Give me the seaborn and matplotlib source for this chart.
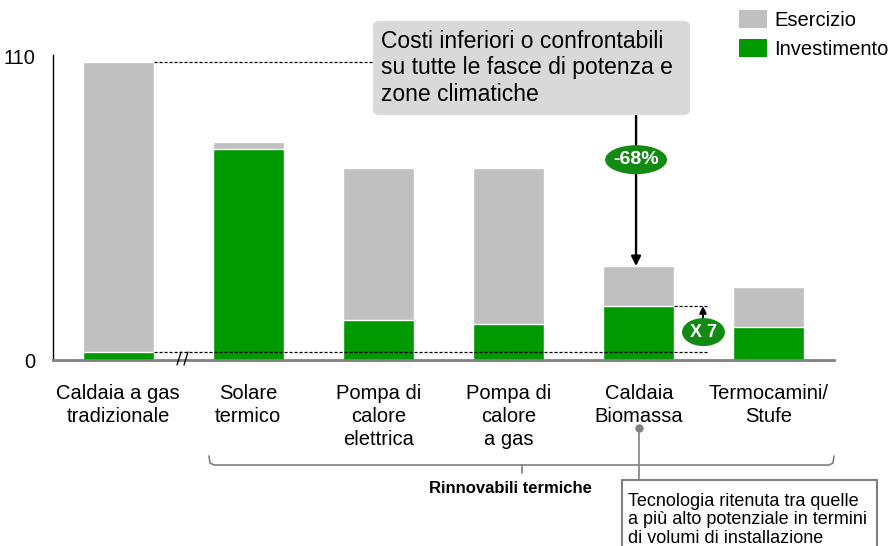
import matplotlib
matplotlib.use("Agg")
import matplotlib.pyplot as plt
from matplotlib.patches import Patch, Ellipse, FancyBboxPatch, Rectangle
from matplotlib.lines import Line2D
from matplotlib.transforms import Affine2D
import seaborn as sns
import pandas as pd

# ---- data -------------------------------------------------------------
categories = [
    "Caldaia a gas\ntradizionale",
    "Solare\ntermico",
    "Pompa di\ncalore\nelettrica",
    "Pompa di\ncalore\na gas",
    "Caldaia\nBiomassa",
    "Termocamini/\nStufe",
]
investimento = [3.0, 76.2, 14.4, 13.0, 19.5, 11.8]
esercizio = [104.7, 2.8, 55.2, 56.5, 14.5, 14.6]
y_ticks = [0, 110]
series_labels = ["Esercizio", "Investimento"]

GRAY = "#c0c0c0"
GREEN = "#009900"
DARK_GREEN = "#138a13"
LINE_GRAY = "#808080"

sns.set_theme(style="white")
plt.rcParams["font.family"] = ["Liberation Sans", "DejaVu Sans"]
plt.rcParams["text.color"] = "black"

W, H = 893, 546
fig = plt.figure(figsize=(W / 100, H / 100), dpi=100)
ax = fig.add_axes([53 / W, 1 - 360 / H, 781 / W, 305 / H])

# pixel coordinates measured from the top-left corner of the figure
px = Affine2D().scale(1 / 100, -1 / 100).translate(0, H / 100) + fig.dpi_scale_trans

df = pd.DataFrame({"cat": categories, "inv": investimento, "ese": esercizio})
df["tot"] = df["inv"] + df["ese"]

BAR_W = 0.545
sns.barplot(data=df, x="cat", y="tot", color=GRAY, width=BAR_W, saturation=1,
            edgecolor="white", linewidth=1, errorbar=None, ax=ax)
sns.barplot(data=df, x="cat", y="inv", color=GREEN, width=BAR_W, saturation=1,
            edgecolor="white", linewidth=1, errorbar=None, ax=ax)

ax.set_xlim(-0.5, 5.5)
ax.set_ylim(0, 110.4)
ax.set_yticks(y_ticks)
ax.set_xlabel("")
ax.set_ylabel("")
ax.tick_params(axis="both", length=0, labelsize=14.5, colors="black")
ax.tick_params(axis="y", pad=13)
ax.tick_params(axis="x", pad=17)
for lbl in ax.get_xticklabels():
    lbl.set_linespacing(1.28)
for s in ("top", "right"):
    ax.spines[s].set_visible(False)
ax.spines["left"].set_color("black")
ax.spines["left"].set_linewidth(1)
ax.spines["bottom"].set_color(LINE_GRAY)
ax.spines["bottom"].set_linewidth(2)

hw = BAR_W / 2
tot = df["tot"].tolist()

def xdata(p):
    return (p - 118.5) / 130.3

dash = dict(color="black", lw=0.9, ls=(0, (2.5, 1.5)), clip_on=False, zorder=3)
# reference levels of the traditional boiler
ax.plot([0 + hw, xdata(373)], [tot[0], tot[0]], **dash)
ax.plot([0 + hw, xdata(708)], [investimento[0], investimento[0]], **dash)
# investment level of the biomass boiler
ax.plot([4 + hw, xdata(708)], [investimento[4], investimento[4]], **dash)

# "X 7" arrow and badge
ax.annotate("", xy=(xdata(704), investimento[4]), xytext=(xdata(704), 15.2),
            arrowprops=dict(arrowstyle="-|>", color="black", lw=1.4,
                            mutation_scale=10, shrinkA=0, shrinkB=0),
            annotation_clip=False, zorder=4)
ax.add_patch(Ellipse((xdata(704.5), 10.1), 43 / 130.3, 28 / 2.763,
                     facecolor=DARK_GREEN, edgecolor="none", zorder=5, clip_on=False))
ax.text(xdata(704.5), 10.1, "X 7", ha="center", va="center", color="white",
        fontsize=13, fontweight="bold", zorder=6)

# arrow from the callout down to the biomass boiler
x68 = xdata(637)
ax.annotate("", xy=(x68, tot[4]), xytext=(x68, (360 - 115) / 2.763),
            arrowprops=dict(arrowstyle="-|>", color="black", lw=1.7,
                            mutation_scale=14, shrinkA=0, shrinkB=0),
            annotation_clip=False, zorder=4)
ax.add_patch(Ellipse((x68, 72.5), 62 / 130.3, 29 / 2.763,
                     facecolor=DARK_GREEN, edgecolor="none", zorder=5, clip_on=False))
ax.text(x68, 72.5, "-68%", ha="center", va="center", color="white",
        fontsize=14, fontweight="bold", zorder=6)

# callout box
fig.add_artist(FancyBboxPatch((373, 21), 317, 94,
                              boxstyle="round,pad=0,rounding_size=6",
                              transform=px, facecolor="#d9d9d9", edgecolor="none",
                              zorder=2))
fig.text(381, 101, "Costi inferiori o confrontabili\nsu tutte le fasce di potenza e\nzone climatiche",
         transform=px, ha="left", va="baseline", fontsize=16.5, linespacing=1.2,
         color="black", zorder=3)

# axis break mark
for x0 in (177, 184):
    fig.add_artist(Line2D([x0, x0 + 4], [365, 352], transform=px, color="black", lw=0.9))

# brace grouping the renewable technologies
fig.add_artist(Line2D([209, 210, 214, 829, 833, 834], [456, 463, 465, 465, 463, 456],
                      transform=px, color=LINE_GRAY, lw=1.2))
fig.add_artist(Line2D([522, 522], [465, 473], transform=px, color=LINE_GRAY, lw=1.2))
fig.text(510, 493, "Rinnovabili termiche", transform=px, ha="center", va="baseline",
         fontsize=12, fontweight="bold", color="black")

# note on the biomass boiler
fig.add_artist(Line2D([639, 639], [428, 480], transform=px, color=LINE_GRAY, lw=1.2))
fig.add_artist(Line2D([639], [428], transform=px, marker="o", markersize=5,
                      color=LINE_GRAY, lw=0))
fig.add_artist(Rectangle((622, 480), 255, 90, transform=px, facecolor="white",
                         edgecolor=LINE_GRAY, lw=1.5))
fig.text(628, 543, "Tecnologia ritenuta tra quelle\na più alto potenziale in termini\ndi volumi di installazione",
         transform=px, ha="left", va="baseline", fontsize=13, linespacing=1.12,
         color="black")

# legend
handles = [Patch(facecolor=GRAY, edgecolor="none"), Patch(facecolor=GREEN, edgecolor="none")]
fig.legend(handles, series_labels, loc="upper left", bbox_to_anchor=(739 / W, 1 - 10 / H),
           frameon=False, fontsize=14.5, handlelength=1.39, handleheight=1.0,
           handletextpad=0.35, labelspacing=0.45, borderpad=0, borderaxespad=0)

fig.savefig("out.png", dpi=100)
